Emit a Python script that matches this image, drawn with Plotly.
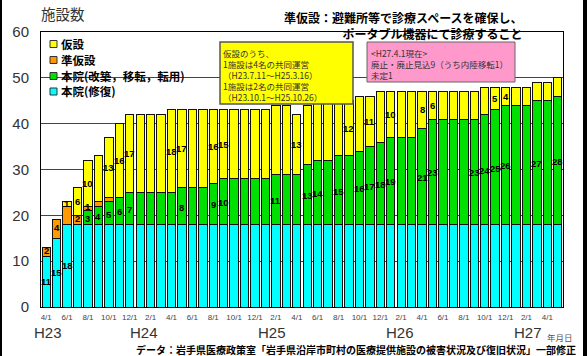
import plotly.graph_objects as go

# ---------------- data ----------------
categories = [
    "H23.04", "H23.05", "H23.06", "H23.07", "H23.08", "H23.09", "H23.10", "H23.11", "H23.12",
    "H24.01", "H24.02", "H24.03", "H24.04", "H24.05", "H24.06", "H24.07", "H24.08", "H24.09",
    "H24.10", "H24.11", "H24.12",
    "H25.01", "H25.02", "H25.03", "H25.04", "H25.05", "H25.06", "H25.07", "H25.08", "H25.09",
    "H25.10", "H25.11", "H25.12",
    "H26.01", "H26.02", "H26.03", "H26.04", "H26.05", "H26.06", "H26.07", "H26.08", "H26.09",
    "H26.10", "H26.11", "H26.12",
    "H27.01", "H27.02", "H27.03", "H27.04", "H27.05",
]
tick_text = ["4/1", "6/1", "8/1", "10/1", "12/1",
             "2/1", "4/1", "6/1", "8/1", "10/1", "12/1",
             "2/1", "4/1", "6/1", "8/1", "10/1", "12/1",
             "2/1", "4/1", "6/1", "8/1", "10/1", "12/1",
             "2/1", "4/1"]
year_labels = ["H23", "H24", "H25", "H26", "H27"]

# 本院(修復)
cyan = [11, 15, 18, 18, 18, 18, 18, 18, 18, 18,
        18, 18, 18, 18, 18, 18, 18, 18, 18, 18,
        18, 18, 18, 18, 18, 18, 18, 18, 18, 18,
        18, 18, 18, 18, 18, 18, 18, 18, 18, 18,
        18, 18, 18, 18, 18, 18, 18, 18, 18, 18]
# 本院(改築，移転，転用)
green = [0, 0, 0, 0, 3, 4, 5, 6, 7, 7,
         7, 7, 7, 8, 8, 8, 9, 10, 10, 10,
         10, 10, 11, 11, 11, 13, 14, 14, 15, 15,
         16, 17, 18, 19, 19, 19, 21, 23, 23, 23,
         23, 23, 24, 25, 26, 26, 26, 27, 27, 28]
# 準仮設
orange = [2, 4, 4, 2, 1, 1, 1, 0, 0, 0,
          0, 0, 0, 0, 0, 0, 0, 0, 0, 0,
          0, 0, 0, 0, 0, 0, 0, 0, 0, 0,
          0, 0, 0, 0, 0, 0, 0, 0, 0, 0,
          0, 0, 0, 0, 0, 0, 0, 0, 0, 0]
# 仮設
yellow = [0, 0, 1, 6, 10, 10, 13, 16, 17, 17,
          17, 17, 18, 17, 17, 17, 16, 15, 15, 15,
          15, 15, 15, 15, 13, 13, 13, 13, 13, 12,
          12, 11, 11, 10, 10, 10, 8, 6, 6, 6,
          6, 6, 6, 5, 4, 4, 4, 4, 4, 4]

# bars (1-based) whose segment value is printed
cyan_label_bars = [1, 2, 3]
green_label_bars = [5, 6, 7, 8, 9, 14, 17, 18, 23, 26, 27, 29, 31, 32, 33, 34,
                    37, 38, 42, 43, 44, 45, 48, 50]
orange_label_bars = [1, 2, 4, 5]
yellow_label_bars = [3, 4, 5, 7, 8, 9, 13, 14, 17, 18, 25, 30, 32, 34, 37, 38, 44, 45]

series_names = ["本院(修復)", "本院(改築，移転，転用)", "準仮設", "仮設"]
series_values = [cyan, green, orange, yellow]
series_colors = ["#00FFFF", "#00E000", "#FF9900", "#FFFF00"]
series_label_bars = [cyan_label_bars, green_label_bars, orange_label_bars, yellow_label_bars]
series_label_shift = [0, -1, 1.5, 0]

# ---------------- layout helpers ----------------
W, H = 587, 356
L, R, T, B = 41, 563, 32, 307


def px(x):
    return (x - L) / (R - L)


def py(y):
    return (B - y) / (B - T)


JP = "Noto Sans CJK JP"
LAT = "Liberation Sans, Arial"

fig = go.Figure()
for name, vals, col in zip(series_names, series_values, series_colors):
    fig.add_trace(go.Bar(
        x=categories,
        y=[v if v else None for v in vals],
        name=name,
        marker=dict(color=col, line=dict(color="#111111", width=1)),
        showlegend=False,
    ))

annotations = []
shapes = []

# segment value labels
base = [0] * len(categories)
for vals, bars, shift in zip(series_values, series_label_bars, series_label_shift):
    for b in bars:
        i = b - 1
        annotations.append(dict(
            x=categories[i], y=base[i] + vals[i] / 2, xref="x", yref="y",
            text=str(vals[i]), showarrow=False, borderpad=0, yshift=shift,
            font=dict(family=LAT, size=9.5, color="#000000", weight="bold"),
        ))
    base = [a + v for a, v in zip(base, vals)]

# manual legend (top-left in plot)
legend_y = [44, 60, 76, 91.5]
legend_order = [3, 2, 1, 0]
for yy, k in zip(legend_y, legend_order):
    shapes.append(dict(type="rect", xref="paper", yref="paper",
                       x0=px(50), x1=px(57), y0=py(yy + 3.5), y1=py(yy - 3.5),
                       fillcolor=series_colors[k], line=dict(color="#333333", width=1)))
    annotations.append(dict(x=px(60), y=py(yy), xref="paper", yref="paper",
                            xanchor="left", yanchor="middle", text=series_names[k],
                            showarrow=False, borderpad=0,
                            font=dict(family=JP, size=11.5, color="#000000", weight="bold")))

# yellow note box
shapes.append(dict(type="rect", xref="paper", yref="paper",
                   x0=px(220), x1=px(353), y0=py(104), y1=py(42),
                   fillcolor="#FFFF00", line=dict(color="#555555", width=1.5)))
box1 = ["仮設のうち、", "1施設は4名の共同運営", "（H23.7.11～H25.3.16）",
        "1施設は2名の共同運営", "（H23.10.1～H25.10.26）"]
annotations.append(dict(x=px(222), y=py(46), xref="paper", yref="paper",
                        xanchor="left", yanchor="top", align="left",
                        text="<br>".join(box1), showarrow=False, borderpad=0,
                        font=dict(family=JP, size=8.5, color="#333333")))

# pink note box
shapes.append(dict(type="rect", xref="paper", yref="paper",
                   x0=px(367), x1=px(515), y0=py(82), y1=py(42),
                   fillcolor="#FF99CC", line=dict(color="#666666", width=1)))
box2 = ["<H27.4.1現在>", "廃止・廃止見込9（うち内陸移転1）", "未定1"]
annotations.append(dict(x=px(370), y=py(46), xref="paper", yref="paper",
                        xanchor="left", yanchor="top", align="left",
                        text="<br>".join(t.replace("<", "&lt;").replace(">", "&gt;") for t in box2),
                        showarrow=False, borderpad=0,
                        font=dict(family=JP, size=8.5, color="#333333")))

# top note
annotations.append(dict(x=px(524), y=py(8), xref="paper", yref="paper",
                        xanchor="right", yanchor="top", align="right",
                        text="準仮設：避難所等で診療スペースを確保し、<br>ポータブル機器にて診療すること",
                        showarrow=False, borderpad=0,
                        font=dict(family=JP, size=12, color="#000000", weight="bold")))

# axis title
annotations.append(dict(x=px(39), y=py(13), xref="paper", yref="paper",
                        xanchor="left", yanchor="middle", text="施設数", showarrow=False,
                        font=dict(family=JP, size=14.5, color="#333333")))

# year labels
for t, xx in zip(year_labels, [47.5, 144, 272, 400, 528]):
    annotations.append(dict(x=px(xx), y=py(332), xref="paper", yref="paper",
                            xanchor="center", yanchor="middle", text=t, showarrow=False,
                            font=dict(family=LAT, size=15, color="#333333")))

annotations.append(dict(x=px(560), y=py(337), xref="paper", yref="paper",
                        xanchor="center", yanchor="middle", text="年月日", showarrow=False,
                        borderpad=0,
                        font=dict(family=JP, size=8.5, color="#555555")))

# source
annotations.append(dict(x=px(577), y=py(349), xref="paper", yref="paper",
                        xanchor="right", yanchor="middle",
                        text="データ：岩手県医療政策室「岩手県沿岸市町村の医療提供施設の被害状況及び復旧状況」一部修正",
                        showarrow=False, borderpad=0,
                        font=dict(family=JP, size=10, color="#000000", weight="bold")))

# image frame edges
shapes.append(dict(type="rect", xref="paper", yref="paper", x0=px(0), x1=px(2),
                   y0=py(356), y1=py(0), fillcolor="#000000", line=dict(width=0), layer="above"))
shapes.append(dict(type="rect", xref="paper", yref="paper", x0=px(583), x1=px(587),
                   y0=py(356), y1=py(0), fillcolor="#000000", line=dict(width=0), layer="above"))

fig.update_layout(
    width=W, height=H,
    margin=dict(l=L, r=W - R, t=T, b=H - B, autoexpand=False),
    barmode="stack", bargap=0.2,
    paper_bgcolor="white", plot_bgcolor="white",
    showlegend=False,
    annotations=annotations, shapes=shapes,
    xaxis=dict(type="category", categoryorder="array", categoryarray=categories,
               range=[-0.5, len(categories) - 0.5],
               tickvals=categories[::2], ticktext=tick_text,
               tickfont=dict(family=LAT, size=8, color="#444444"),
               ticks="", showgrid=False, showline=True, linecolor="#000000",
               linewidth=1, mirror=True, ticklabelstandoff=2),
    yaxis=dict(range=[0, 60], tickvals=[0, 10, 20, 30, 40, 50, 60],
               tickfont=dict(family=LAT, size=15, color="#333333"),
               ticks="", showgrid=True, gridcolor="#444444", gridwidth=1,
               showline=True, linecolor="#000000", linewidth=1, mirror=True,
               zeroline=False, ticklabelstandoff=8),
)

fig.write_html("out.html")
